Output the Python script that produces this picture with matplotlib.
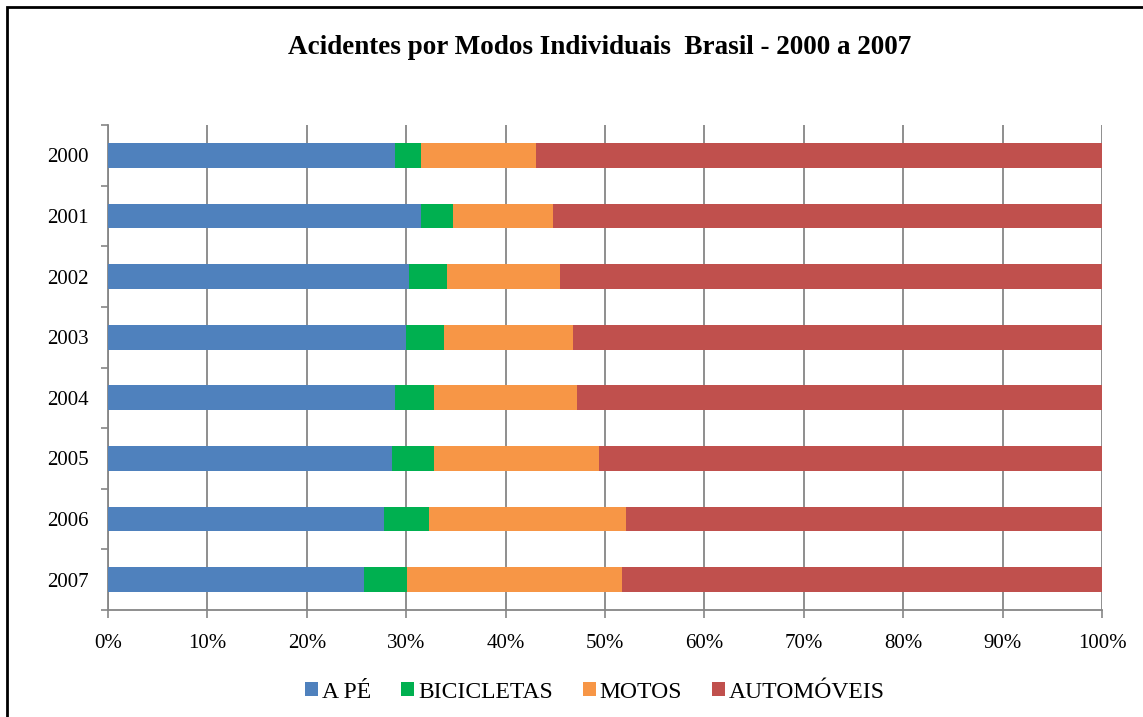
import numpy as np
import matplotlib.pyplot as plt
from matplotlib.patches import Rectangle

# anos e participação (%) de cada modo
anos = ['2000', '2001', '2002', '2003', '2004', '2005', '2006', '2007']
a_pe = [28.9, 31.5, 30.3, 30.0, 28.9, 28.6, 27.8, 25.8]
bicicletas = [2.6, 3.2, 3.8, 3.8, 3.9, 4.2, 4.5, 4.3]
motos = [11.6, 10.1, 11.4, 13.0, 14.4, 16.6, 19.8, 21.6]
automoveis = [100 - a - b - m for a, b, m in zip(a_pe, bicicletas, motos)]

series = [('A PÉ', a_pe, '#4F81BD'),
          ('BICICLETAS', bicicletas, '#00B050'),
          ('MOTOS', motos, '#F79646'),
          ('AUTOMÓVEIS', automoveis, '#C0504D')]

plt.rcParams['font.family'] = ['Liberation Serif', 'DejaVu Serif']

fig = plt.figure(figsize=(11.43, 7.17), dpi=100)
ax = fig.add_axes([108/1143, 1 - 610/717, 994/1143, 485/717])

y = np.arange(len(anos))
esq = np.zeros(len(anos))
for nome, vals, cor in series:
    vals = np.array(vals)
    ax.barh(y, vals, left=esq, height=0.41, color=cor, label=nome, zorder=3)
    esq += vals

ax.set_xlim(0, 100)
ax.set_ylim(len(anos) - 0.5, -0.5)
ax.set_xticks(np.arange(0, 101, 10))
ax.set_xticklabels(['{}%'.format(v) for v in range(0, 101, 10)], fontsize=15)
ax.set_yticks(y)
ax.set_yticklabels(anos, fontsize=15)
ax.set_yticks(np.arange(-0.5, len(anos)), minor=True)
ax.tick_params(axis='y', which='major', length=0, pad=14)
ax.tick_params(axis='y', which='minor', length=5, color='#868686', width=1.2)
ax.tick_params(axis='x', length=6, color='#868686', width=1.2, pad=11)

ax.grid(axis='x', color='#868686', lw=1.3, zorder=0)
for s in ['top', 'right']:
    ax.spines[s].set_visible(False)
for s in ['left', 'bottom']:
    ax.spines[s].set_color('#868686')
    ax.spines[s].set_linewidth(1.3)

fig.text(600/1143, 1 - 47/717, 'Acidentes por Modos Individuais  Brasil - 2000 a 2007',
         ha='center', va='center', fontsize=19.5, fontweight='bold')

fig.legend(loc='center', bbox_to_anchor=(595/1143, 1 - 692/717), ncol=4, frameon=False,
           fontsize=17, handlelength=0.55, handleheight=0.55, handletextpad=0.17,
           columnspacing=1.27)

# moldura da figura
fig.patches.append(Rectangle((6.5/1143, -0.05), 1.2, 1 - 6.5/717 + 0.05,
                             transform=fig.transFigure, fill=False,
                             edgecolor='black', lw=2))

fig.savefig('out.png', dpi=100)
